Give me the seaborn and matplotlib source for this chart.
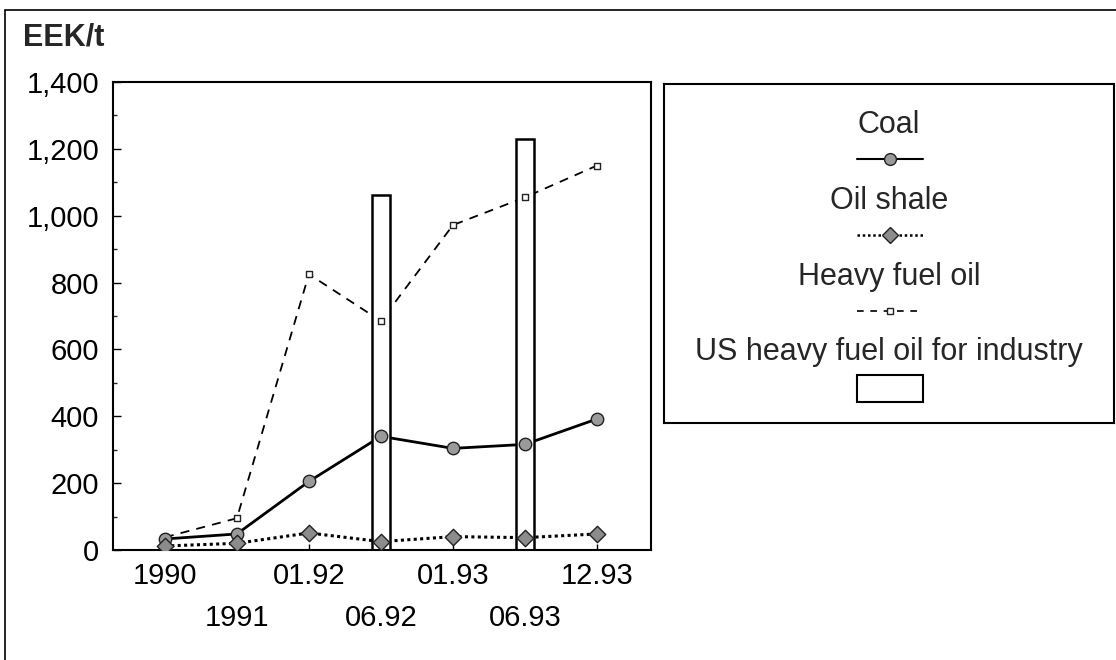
import numpy as np
import pandas as pd
import matplotlib
matplotlib.use("Agg")
import matplotlib.pyplot as plt
import seaborn as sns
from matplotlib.patches import Rectangle
from matplotlib.ticker import FuncFormatter, MultipleLocator

# ---- data ----
periods = ["1990", "1991", "01.92", "06.92", "01.93", "06.93", "12.93"]
coal = [33, 48, 205, 340, 304, 316, 392]
oil_shale = [12, 20, 51, 25, 40, 37, 48]
heavy_fuel_oil = [38, 95, 825, 685, 972, 1055, 1150]
us_periods = ["06.92", "06.93"]
us_heavy_fuel_oil = [1062, 1230]
y_ticks = [0, 200, 400, 600, 800, 1000, 1200, 1400]

sns.set_theme(style="white")
plt.rcParams["font.family"] = ["Liberation Sans", "DejaVu Sans"]

W, H = 1116, 660
fig = plt.figure(figsize=(W / 100, H / 100), dpi=100)
fig.patch.set_facecolor("white")


def fx(px):
    return px / W


def fy(py):
    return 1 - py / H


ax = fig.add_axes([fx(113), fy(550), fx(651) - fx(113), fy(82) - fy(550)])

pos = np.arange(len(periods))
df = pd.DataFrame({"pos": pos, "period": periods, "Coal": coal,
                   "Oil shale": oil_shale, "Heavy fuel oil": heavy_fuel_oil})

# lines (below bars)
sns.lineplot(data=df, x="pos", y="Heavy fuel oil", ax=ax, color="black",
             lw=1.3, linestyle=(0, (5, 4)), zorder=1)
sns.lineplot(data=df, x="pos", y="Coal", ax=ax, color="black",
             lw=2.0, linestyle="-", zorder=1)
sns.lineplot(data=df, x="pos", y="Oil shale", ax=ax, color="black",
             lw=2.2, linestyle=(0, (1, 1.1)), zorder=1)

# bars (white, hide lines)
bar_x = [periods.index(p) for p in us_periods]
ax.bar(bar_x, us_heavy_fuel_oil, width=0.25, facecolor="white",
       edgecolor="black", lw=1.8, zorder=2)

# markers on top
sns.scatterplot(data=df, x="pos", y="Heavy fuel oil", ax=ax, marker="s", s=16,
                color="white", edgecolor="#222222", linewidth=1.0, zorder=3)
sns.scatterplot(data=df, x="pos", y="Coal", ax=ax, marker="o", s=80,
                color="#9a9a9a", edgecolor="#222222", linewidth=1.0, zorder=3)
sns.scatterplot(data=df, x="pos", y="Oil shale", ax=ax, marker="D", s=70,
                color="#8c8c8c", edgecolor="#222222", linewidth=1.0, zorder=3)

ax.set_xlim(-0.72, 6.75)
ax.set_ylim(0, 1400)
ax.set_xlabel("")
ax.set_ylabel("")

ax.set_yticks(y_ticks)
ax.yaxis.set_major_formatter(FuncFormatter(lambda v, _: f"{int(v):,}"))
ax.yaxis.set_minor_locator(MultipleLocator(100))
ax.tick_params(axis="y", which="major", direction="in", length=6, width=1,
               pad=10, labelsize=21, left=True, colors="black")
ax.tick_params(axis="y", which="minor", direction="in", length=3, width=1,
               left=True)

ax.set_xticks(pos[0::2], [periods[i] for i in pos[0::2]])
ax.set_xticks(pos[1::2], [periods[i] for i in pos[1::2]], minor=True)
ax.tick_params(axis="x", which="major", direction="in", length=4, width=1,
               pad=9, labelsize=21, bottom=True, colors="black")
ax.tick_params(axis="x", which="minor", direction="in", length=4, width=1,
               pad=39, labelsize=21, bottom=True, colors="black")

for s in ax.spines.values():
    s.set_visible(True)
    s.set_color("black")
    s.set_linewidth(1.5)
ax.grid(False)
ax.set_facecolor("white")

# ---- legend box ----
axl = fig.add_axes([fx(664), fy(423), fx(1114) - fx(664), fy(84) - fy(423)])
axl.set_xlim(0, 1)
axl.set_ylim(0, 1)
axl.set_xticks([])
axl.set_yticks([])
for s in axl.spines.values():
    s.set_visible(True)
    s.set_color("black")
    s.set_linewidth(1.5)
axl.set_facecolor("white")

fs_leg = 22
x0, x1 = 0.429, 0.576
xm = (x0 + x1) / 2
axl.text(0.5, 0.856, "Coal", ha="center", va="baseline", fontsize=fs_leg)
axl.plot([x0, x1], [0.779, 0.779], color="black", lw=1.5)
axl.plot([xm], [0.779], marker="o", ms=8.5, mfc="#9a9a9a", mec="#222222", mew=1)
axl.text(0.5, 0.630, "Oil shale", ha="center", va="baseline", fontsize=fs_leg)
axl.plot([x0, x1], [0.555, 0.555], color="black", lw=1.8, linestyle=(0, (1, 1.1)))
axl.plot([xm], [0.555], marker="D", ms=8, mfc="#8c8c8c", mec="#222222", mew=1)
axl.text(0.5, 0.407, "Heavy fuel oil", ha="center", va="baseline", fontsize=fs_leg)
axl.plot([x0, x1], [0.330, 0.330], color="black", lw=1.2, linestyle=(0, (4, 4)))
axl.plot([xm], [0.330], marker="s", ms=4, mfc="white", mec="#222222", mew=1)
axl.text(0.5, 0.186, "US heavy fuel oil for industry", ha="center", va="baseline",
         fontsize=fs_leg)
axl.add_patch(Rectangle((x0, 0.102 - 0.04), x1 - x0, 0.08, facecolor="white",
                        edgecolor="black", lw=1.5))

# unit label
fig.text(fx(23), fy(45), "EEK/t", ha="left", va="baseline", fontsize=22,
         fontweight="bold")

# outer frame
fig.add_artist(Rectangle((fx(5), fy(720)), fx(1140) - fx(5), fy(10) - fy(720),
                         transform=fig.transFigure, fill=False, lw=1.2,
                         edgecolor="black"))

fig.savefig("out.png", dpi=100, facecolor="white")
